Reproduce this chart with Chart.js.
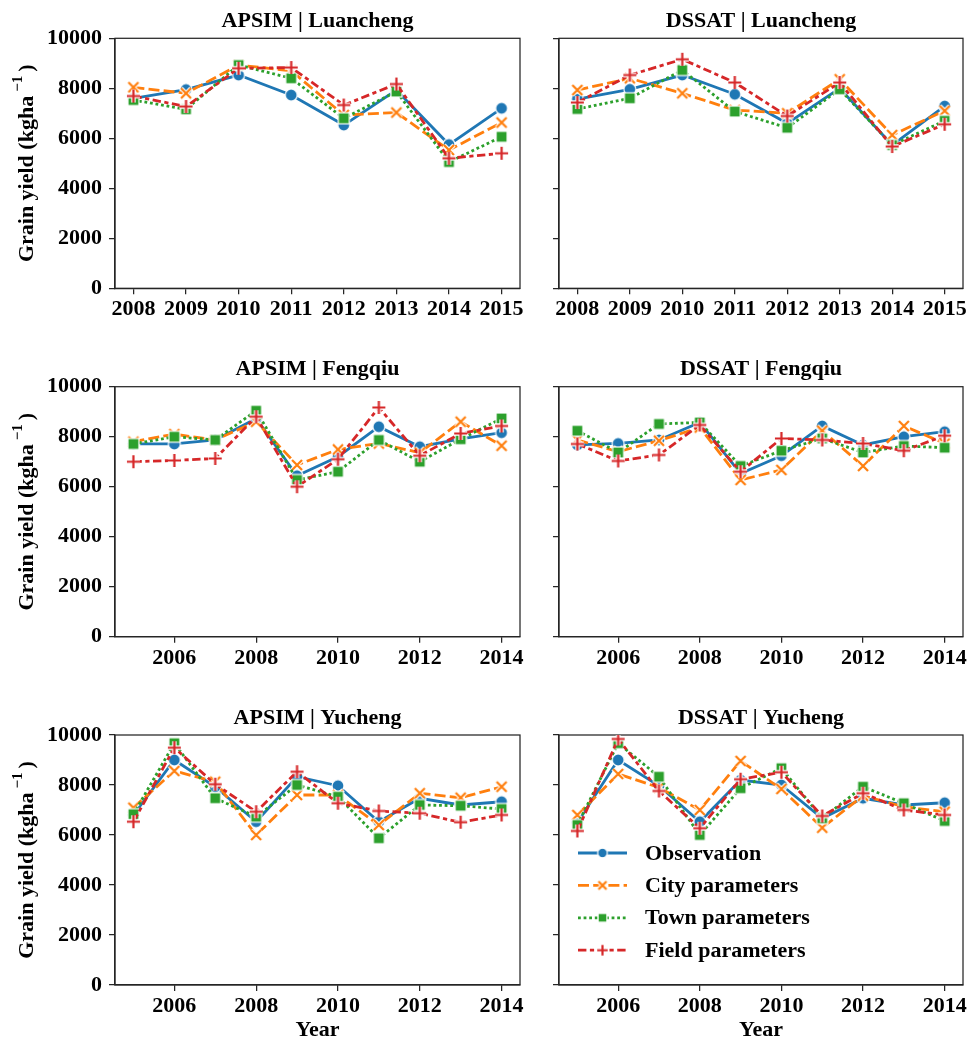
<!DOCTYPE html>
<html>
<head>
<meta charset="utf-8">
<script src="https://cdn.jsdelivr.net/npm/chart.js@4.4.1/dist/chart.umd.min.js"></script>
<style>
  html, body { margin: 0; padding: 0; background: #fff; }
  #fig { position: relative; width: 968px; height: 1039px; overflow: hidden; }
  #fig canvas { position: absolute; }
</style>
</head>
<body>
<div id="fig">
  <canvas id="c1"></canvas>
  <canvas id="c2"></canvas>
  <canvas id="c3"></canvas>
  <canvas id="c4"></canvas>
  <canvas id="c5"></canvas>
  <canvas id="c6"></canvas>
</div>
<script>
// years and ticks
const luanchengYears = [2008, 2009, 2010, 2011, 2012, 2013, 2014, 2015];
const siteYears = [2005, 2006, 2007, 2008, 2009, 2010, 2011, 2012, 2013, 2014];
const evenYearTicks = [2006, 2008, 2010, 2012, 2014];
const yieldTicks = [0, 2000, 4000, 6000, 8000, 10000];
const seriesNames = ['Observation', 'City parameters', 'Town parameters', 'Field parameters'];

// APSIM | Luancheng
const apsimLuanObs   = [7600, 7950, 8530, 7730, 6530, 7930, 5750, 7200];
const apsimLuanCity  = [8040, 7800, 8930, 8700, 6930, 7030, 5530, 6630];
const apsimLuanTown  = [7530, 7160, 8930, 8400, 6800, 7870, 5050, 6060];
const apsimLuanField = [7690, 7270, 8800, 8830, 7330, 8170, 5200, 5400];

// DSSAT | Luancheng
const dssatLuanObs   = [7570, 7960, 8530, 7760, 6600, 8000, 5730, 7290];
const dssatLuanCity  = [7930, 8400, 7800, 7130, 7000, 8360, 6130, 7100];
const dssatLuanTown  = [7170, 7600, 8730, 7070, 6420, 7960, 5730, 6700];
const dssatLuanField = [7430, 8530, 9160, 8230, 6890, 8230, 5670, 6560];

// APSIM | Fengqiu
const apsimFengObs   = [7710, 7710, 7870, 8730, 6440, 7200, 8400, 7600, 7910, 8160];
const apsimFengCity  = [7800, 8100, 7870, 8600, 6870, 7490, 7730, 7360, 8600, 7640];
const apsimFengTown  = [7710, 8000, 7870, 9040, 6270, 6600, 7870, 7000, 7900, 8730];
const apsimFengField = [7000, 7050, 7130, 8800, 6000, 7100, 9170, 7240, 8130, 8430];

// DSSAT | Fengqiu
const dssatFengObs   = [7670, 7730, 7870, 8570, 6530, 7240, 8430, 7670, 8000, 8200];
const dssatFengCity  = [7870, 7400, 7840, 8370, 6270, 6670, 8240, 6830, 8430, 7730];
const dssatFengTown  = [8240, 7370, 8510, 8570, 6830, 7440, 7930, 7370, 7630, 7560];
const dssatFengField = [7710, 7030, 7270, 8470, 6600, 7930, 7870, 7730, 7440, 8040];

// APSIM | Yucheng
const apsimYuObs   = [6800, 9000, 7930, 6530, 8330, 7970, 6530, 7470, 7200, 7330];
const apsimYuCity  = [7090, 8560, 8130, 6000, 7600, 7600, 6400, 7670, 7490, 7930];
const apsimYuTown  = [6830, 9670, 7470, 6730, 8000, 7530, 5870, 7200, 7170, 7040];
const apsimYuField = [6530, 9490, 8030, 6930, 8530, 7270, 6960, 6870, 6510, 6800];

// DSSAT | Yucheng
const dssatYuObs   = [6500, 9000, 7970, 6530, 8200, 8000, 6670, 7470, 7200, 7290];
const dssatYuCity  = [6800, 8440, 7900, 7000, 8960, 7840, 6290, 7570, 7130, 6930];
const dssatYuTown  = [6400, 9670, 8330, 6000, 7870, 8670, 6670, 7930, 7270, 6560];
const dssatYuField = [6160, 9840, 7760, 6270, 8230, 8510, 6760, 7670, 7000, 6800];

const FAMILY = '"Liberation Serif", "Times New Roman", serif';
const BOLD = 'bold 22px ' + FAMILY;
const AXIS_COLOR = '#262626';
const LINE_W = 2.8;

const seriesStyle = [
  { color: '#1f77b4', dash: [], point: 'circle', size: 6 },
  { color: '#ff7f0e', dash: [11, 4.2], point: 'x', size: 5 },
  { color: '#2ca02c', dash: [2.8, 2.8], point: 'square', size: 5.5 },
  { color: '#d62728', dash: [8.4, 3.5, 4.2, 3.5], point: 'plus', size: 6.5 }
];

// marker images with a white edge, like the seaborn markers
function markerImage(st, scale) {
  const s = st.size * scale;
  const n = Math.ceil(s * 2 + 6);
  const c = document.createElement('canvas');
  c.width = n; c.height = n;
  const ctx = c.getContext('2d');
  const m = n / 2;
  ctx.lineCap = 'butt';
  if (st.point === 'circle') {
    ctx.beginPath();
    ctx.arc(m, m, s, 0, Math.PI * 2);
    ctx.fillStyle = st.color; ctx.fill();
    ctx.strokeStyle = '#fff'; ctx.lineWidth = 1.2; ctx.stroke();
  } else if (st.point === 'square') {
    ctx.fillStyle = st.color;
    ctx.fillRect(m - s, m - s, 2 * s, 2 * s);
    ctx.strokeStyle = '#fff'; ctx.lineWidth = 1.2;
    ctx.strokeRect(m - s, m - s, 2 * s, 2 * s);
  } else {
    const path = () => {
      ctx.beginPath();
      if (st.point === 'plus') {
        ctx.moveTo(m - s, m); ctx.lineTo(m + s, m);
        ctx.moveTo(m, m - s); ctx.lineTo(m, m + s);
      } else {
        ctx.moveTo(m - s, m - s); ctx.lineTo(m + s, m + s);
        ctx.moveTo(m - s, m + s); ctx.lineTo(m + s, m - s);
      }
    };
    path(); ctx.strokeStyle = '#fff'; ctx.lineWidth = 4.4; ctx.stroke();
    path(); ctx.strokeStyle = st.color; ctx.lineWidth = 2.2; ctx.stroke();
  }
  return c;
}
const markerImgs = seriesStyle.map(st => markerImage(st, 1));
const legendImgs = seriesStyle.map(st => markerImage(st, 0.8));

// panel boxes in page pixels
const cols = [
  { cx: 0, cw: 540, l: 115, r: 520 },
  { cx: 540, cw: 428, l: 559, r: 963 }
];
const rows = [
  { cy: 0, ch: 335, t: 38.3, b: 288.3 },
  { cy: 335, ch: 345, t: 386.7, b: 636.7 },
  { cy: 680, ch: 359, t: 735, b: 985 }
];
const X_AXIS_H = 40;

const panelDecor = {
  id: 'panelDecor',
  beforeDatasetsDraw(chart) {
    const { ctx, chartArea: a } = chart;
    ctx.save();
    ctx.strokeStyle = AXIS_COLOR;
    ctx.lineWidth = 1.25;
    ctx.strokeRect(a.left, a.top, a.right - a.left, a.bottom - a.top);
    ctx.restore();
  },
  afterDraw(chart, args, o) {
    const { ctx, chartArea: a } = chart;
    ctx.save();
    ctx.fillStyle = '#000';
    ctx.font = BOLD;
    ctx.textAlign = 'center';
    ctx.textBaseline = 'middle';
    ctx.fillText(o.title, (a.left + a.right) / 2, a.top - 17);

    if (o.xLabel) {
      ctx.fillText('Year', (a.left + a.right) / 2, a.bottom + 45);
    }

    if (o.yLabel) {
      // Grain yield (kgha^-1)
      const main = 'Grain yield (kgha', sup = '\u22121', end = ')';
      ctx.font = BOLD;
      const w1 = ctx.measureText(main).width;
      const w3 = ctx.measureText(end).width;
      ctx.font = 'bold 15px ' + FAMILY;
      const w2 = ctx.measureText(sup).width;
      const gap = 4;
      const total = w1 + gap + w2 + gap + w3;
      ctx.translate(27, (a.top + a.bottom) / 2);
      ctx.rotate(-Math.PI / 2);
      ctx.textAlign = 'left';
      const x0 = -total / 2;
      ctx.font = BOLD;
      ctx.fillText(main, x0, 0);
      ctx.font = 'bold 15px ' + FAMILY;
      ctx.fillText(sup, x0 + w1 + gap, -9);
      ctx.font = BOLD;
      ctx.fillText(end, x0 + w1 + gap + w2 + gap, 0);
      ctx.setTransform(1, 0, 0, 1, 0, 0);
    }

    if (o.legend) {
      ctx.font = BOLD;
      ctx.textAlign = 'left';
      ctx.textBaseline = 'middle';
      seriesNames.forEach((name, i) => {
        const st = seriesStyle[i];
        const y = a.bottom - 132 + i * 32.4;
        const x1 = a.left + 19, x2 = a.left + 68;
        ctx.save();
        ctx.strokeStyle = st.color;
        ctx.lineWidth = LINE_W;
        ctx.setLineDash(st.dash);
        ctx.beginPath();
        ctx.moveTo(x1, y); ctx.lineTo(x2, y);
        ctx.stroke();
        ctx.restore();
        const img = legendImgs[i];
        ctx.drawImage(img, (x1 + x2) / 2 - img.width / 2, y - img.height / 2);
        ctx.fillStyle = '#000';
        ctx.fillText(name, a.left + 86, y + 1);
      });
    }
    ctx.restore();
  }
};

function makeDatasets(years, values) {
  return values.map((vals, i) => {
    const st = seriesStyle[i];
    return {
      label: seriesNames[i],
      data: years.map((yr, k) => ({ x: yr, y: vals[k] })),
      borderColor: st.color,
      borderWidth: LINE_W,
      borderDash: st.dash,
      pointStyle: markerImgs[i],
      pointRadius: st.size,
      tension: 0,
      order: 4 - i
    };
  });
}

function makeChart(p) {
  const col = cols[p.col], row = rows[p.row];
  const canvas = document.getElementById(p.id);
  canvas.width = col.cw;
  canvas.height = row.ch;
  canvas.style.left = col.cx + 'px';
  canvas.style.top = row.cy + 'px';
  const span = p.years[p.years.length - 1] - p.years[0];
  const pad = span * 0.05;
  const tickFont = { family: FAMILY, size: 22, weight: 'bold' };
  const grid = { display: true, drawOnChartArea: false, drawTicks: true, tickLength: 6, color: AXIS_COLOR, lineWidth: 1.25 };
  const border = { display: true, color: AXIS_COLOR, width: 1.25 };

  return new Chart(canvas, {
    type: 'line',
    data: { datasets: makeDatasets(p.years, p.values) },
    options: {
      responsive: false,
      animation: false,
      layout: {
        autoPadding: false,
        padding: {
          left: 0,
          top: row.t - row.cy,
          right: col.cx + col.cw - col.r,
          bottom: row.cy + row.ch - row.b - X_AXIS_H
        }
      },
      plugins: {
        legend: { display: false },
        tooltip: { enabled: false },
        panelDecor: { title: p.title, yLabel: p.col === 0, xLabel: p.row === 2, legend: !!p.legend }
      },
      scales: {
        x: {
          type: 'linear',
          min: p.years[0] - pad,
          max: p.years[p.years.length - 1] + pad,
          afterBuildTicks: s => { s.ticks = p.xTicks.map(v => ({ value: v })); },
          afterFit: s => { s.height = X_AXIS_H; s.paddingLeft = 0; s.paddingRight = 0; },
          ticks: { autoSkip: false, maxRotation: 0, minRotation: 0, padding: 2, font: tickFont, color: '#000', callback: v => String(v) },
          grid: grid,
          border: border
        },
        y: {
          type: 'linear',
          min: 0,
          max: 10000,
          afterBuildTicks: s => { s.ticks = yieldTicks.map(v => ({ value: v })); },
          afterFit: s => { s.width = col.l - col.cx; },
          ticks: { display: p.col === 0, padding: 7, font: tickFont, color: '#000', callback: v => String(v) },
          grid: grid,
          border: border
        }
      }
    },
    plugins: [panelDecor]
  });
}

const panels = [
  { id: 'c1', col: 0, row: 0, title: 'APSIM | Luancheng', years: luanchengYears, xTicks: luanchengYears,
    values: [apsimLuanObs, apsimLuanCity, apsimLuanTown, apsimLuanField] },
  { id: 'c2', col: 1, row: 0, title: 'DSSAT | Luancheng', years: luanchengYears, xTicks: luanchengYears,
    values: [dssatLuanObs, dssatLuanCity, dssatLuanTown, dssatLuanField] },
  { id: 'c3', col: 0, row: 1, title: 'APSIM | Fengqiu', years: siteYears, xTicks: evenYearTicks,
    values: [apsimFengObs, apsimFengCity, apsimFengTown, apsimFengField] },
  { id: 'c4', col: 1, row: 1, title: 'DSSAT | Fengqiu', years: siteYears, xTicks: evenYearTicks,
    values: [dssatFengObs, dssatFengCity, dssatFengTown, dssatFengField] },
  { id: 'c5', col: 0, row: 2, title: 'APSIM | Yucheng', years: siteYears, xTicks: evenYearTicks,
    values: [apsimYuObs, apsimYuCity, apsimYuTown, apsimYuField] },
  { id: 'c6', col: 1, row: 2, title: 'DSSAT | Yucheng', years: siteYears, xTicks: evenYearTicks,
    values: [dssatYuObs, dssatYuCity, dssatYuTown, dssatYuField], legend: true }
];

panels.forEach(makeChart);
</script>
</body>
</html>
